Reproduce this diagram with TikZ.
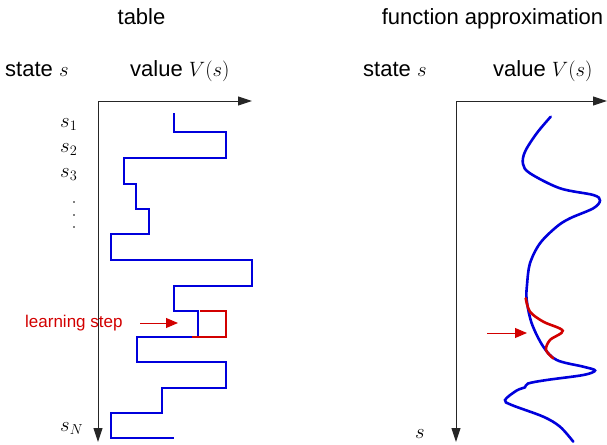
\documentclass[tikz,border=0pt]{standalone}
\usepackage{fontspec}
\setmainfont{Liberation Sans}
\usetikzlibrary{arrows.meta}
\definecolor{vblue}{RGB}{0,0,220}
\definecolor{vred}{RGB}{210,0,0}
\begin{document}
\begin{tikzpicture}[x=1pt,y=-1pt,
  lbl/.style={inner sep=0pt,font=\fontsize{22}{26}\selectfont},
  smlbl/.style={inner sep=0pt,text=vred,font=\fontsize{17}{20}\selectfont},
  axis/.style={black!85,line width=1pt,-{Triangle[length=14pt,width=9pt]}},
  vline/.style={vblue,line width=2.6pt,line join=miter},
  rline/.style={vred,line width=2.6pt,line join=miter},
  rarrow/.style={vred,line width=1pt,-{Triangle[length=12pt,width=10pt]}}]
\useasboundingbox (0,0) rectangle (607,444);
% titles
\node[lbl,anchor=base] (t1) at (141.5,25) {table};
\node[lbl,anchor=base] (t2) at (492.5,25) {function approximation};
\node[lbl,anchor=base west] (st1) at (5,76) {state $s$};
\node[lbl,anchor=base west] (va1) at (130,76) {value $V(s)$};
\node[lbl,anchor=base west] (st2) at (363,76) {state $s$};
\node[lbl,anchor=base west] (va2) at (493,76) {value $V(s)$};
% left axes
\coordinate (o1) at (98,101);
\coordinate (x1) at (252,101);
\coordinate (y1) at (98,442);
\draw[axis] (o1) -- (x1);
\draw[axis] (o1) -- (y1);
% state labels
\node[lbl,anchor=base west] (s1) at (60,127) {$s_1$};
\node[lbl,anchor=base west] (s2) at (60,152) {$s_2$};
\node[lbl,anchor=base west] (s3) at (60,177) {$s_3$};
\node[lbl,anchor=base west] (sN) at (60,431) {$s_N$};
\fill (74,202) circle (0.8);
\fill (74,215) circle (0.8);
\fill (74,227) circle (0.8);
% table steps
\draw[vline] (174,113) -- (174,132) -- (226,132) -- (226,158) -- (124,158) -- (124,184)
  -- (136,184) -- (136,209) -- (149,209) -- (149,234) -- (111,234) -- (111,260)
  -- (252,260) -- (252,286) -- (174,286) -- (174,311) -- (198,311) -- (198,337)
  -- (137,337) -- (137,362) -- (226,362) -- (226,388) -- (162,388) -- (162,413)
  -- (111,413) -- (111,438) -- (174,438);
\draw[rline] (200,311) -- (226,311) -- (226,337) -- (192,337);
% learning step
\node[smlbl,anchor=base west] (ls) at (25,327) {learning step};
\coordinate (a1s) at (140,323);
\coordinate (a1e) at (178,323);
\draw[rarrow] (a1s) -- (a1e);
% right axes
\coordinate (o2) at (456,101);
\coordinate (x2) at (607,101);
\coordinate (y2) at (456,442);
\draw[axis] (o2) -- (x2);
\draw[axis] (o2) -- (y2);
\node[lbl,anchor=base west] (s) at (415,438) {$s$};
% function curve
\draw[vblue,line width=2.6pt,line cap=round] plot[smooth,tension=0.55] coordinates {
 (550.7,116.7) (536.7,133.3) (525,151.7) (523,164) (530,173.3) (560,188.3)
 (593.3,195) (600,200.5) (593.3,208.3) (570,218.3) (556.7,226.7) (540,243.3)
 (530,263.3) (527,285) (526.7,300) (531.7,323.3) (543.3,346.7) (556.7,360)
 (583.3,366.7) (595,370.5) (583.3,375) (546.7,380) (528,383.5) (525,387.3)
 (516.7,390.5) (505,400) (511.7,405) (543.3,416.7) (560,426.7) (573.3,441.7)};
\draw[vred,line width=2.6pt,line cap=round] plot[smooth,tension=0.55] coordinates {
 (525.7,298.3) (530,311.7) (543.3,321.7) (562.7,330.7) (550,340) (546,350) (553.3,358.3)};
\coordinate (a2s) at (487,333);
\coordinate (a2e) at (527,333);
\draw[rarrow] (a2s) -- (a2e);
\end{tikzpicture}
\end{document}
